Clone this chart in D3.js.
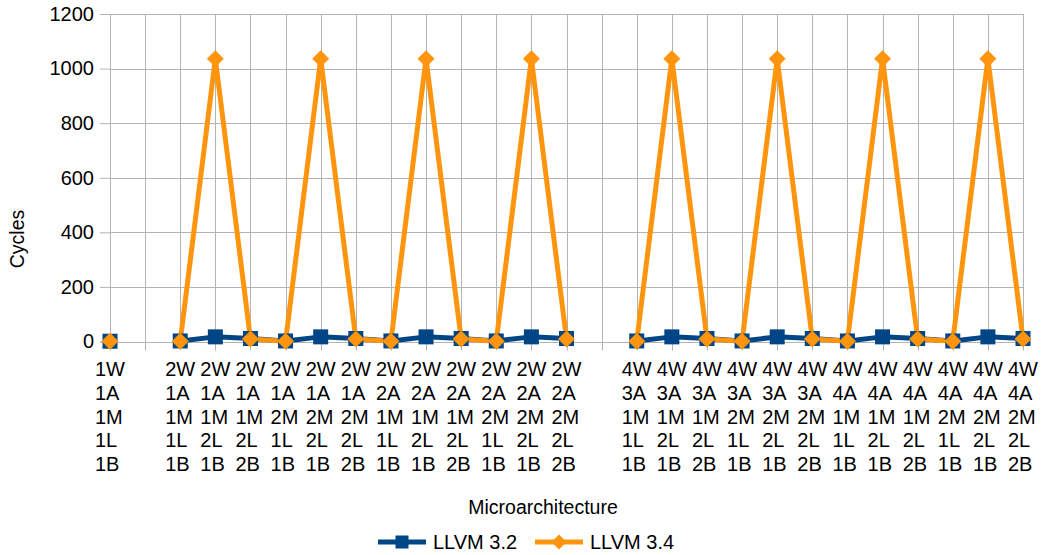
<!DOCTYPE html>
<html>
<head>
<meta charset="utf-8">
<script src="https://cdn.jsdelivr.net/npm/d3@7"></script>
<style>
  html, body { margin: 0; padding: 0; background: #fff; }
  svg { display: block; font-family: "Liberation Sans", Arial, sans-serif; }
</style>
</head>
<body>
<svg id="chart" width="1046" height="555"></svg>
<script>
// Configurations (one per category); empty entries are spacer slots between groups
const categories = [
  ["1W","1A","1M","1L","1B"],
  [],
  ["2W","1A","1M","1L","1B"], ["2W","1A","1M","2L","1B"], ["2W","1A","1M","2L","2B"],
  ["2W","1A","2M","1L","1B"], ["2W","1A","2M","2L","1B"], ["2W","1A","2M","2L","2B"],
  ["2W","2A","1M","1L","1B"], ["2W","2A","1M","2L","1B"], ["2W","2A","1M","2L","2B"],
  ["2W","2A","2M","1L","1B"], ["2W","2A","2M","2L","1B"], ["2W","2A","2M","2L","2B"],
  [],
  ["4W","3A","1M","1L","1B"], ["4W","3A","1M","2L","1B"], ["4W","3A","1M","2L","2B"],
  ["4W","3A","2M","1L","1B"], ["4W","3A","2M","2L","1B"], ["4W","3A","2M","2L","2B"],
  ["4W","4A","1M","1L","1B"], ["4W","4A","1M","2L","1B"], ["4W","4A","1M","2L","2B"],
  ["4W","4A","2M","1L","1B"], ["4W","4A","2M","2L","1B"], ["4W","4A","2M","2L","2B"]
];

const llvm32 = [
  1, null,
  2, 17, 11, 2, 17, 11, 2, 17, 11, 2, 17, 11,
  null,
  2, 17, 11, 2, 17, 11, 2, 17, 11, 2, 17, 11
];

const llvm34 = [
  1, null,
  1, 1036, 9, 1, 1036, 9, 1, 1036, 9, 1, 1036, 9,
  null,
  1, 1036, 9, 1, 1036, 9, 1, 1036, 9, 1, 1036, 9
];

const yTicks = [0, 200, 400, 600, 800, 1000, 1200];

const seriesNames = ["LLVM 3.2", "LLVM 3.4"];
const seriesColors = ["#004586", "#ff950e"];

const svg = d3.select("#chart");
const plot = { left: 110, right: 1023, top: 14, bottom: 341.5 };
const gridColor = "#b3b3b3";
const fontSize = 20;

const x = d3.scalePoint()
  .domain(d3.range(categories.length))
  .range([plot.left, plot.right]);

const y = d3.scaleLinear()
  .domain([0, 1200])
  .range([plot.bottom, plot.top]);

// Horizontal grid lines + y axis labels
const yAxis = d3.axisLeft(y)
  .tickValues(yTicks)
  .tickSize(10)
  .tickPadding(6)
  .tickFormat(d3.format("d"));

const gy = svg.append("g")
  .attr("transform", `translate(${plot.left},0)`)
  .call(yAxis);
gy.select(".domain").attr("stroke", gridColor);
gy.selectAll(".tick line").attr("stroke", gridColor);
gy.selectAll(".tick text")
  .attr("font-size", fontSize)
  .attr("fill", "#000")
  .attr("font-family", "Liberation Sans, Arial, sans-serif");

svg.append("g").selectAll("line")
  .data(yTicks)
  .join("line")
  .attr("x1", plot.left).attr("x2", plot.right)
  .attr("y1", d => Math.round(y(d)) + 0.5).attr("y2", d => Math.round(y(d)) + 0.5)
  .attr("stroke", gridColor).attr("stroke-width", 1);

// Vertical grid lines at every category, extending below the axis as tick marks
svg.append("g").selectAll("line")
  .data(d3.range(categories.length))
  .join("line")
  .attr("x1", d => Math.round(x(d)) + 0.5).attr("x2", d => Math.round(x(d)) + 0.5)
  .attr("y1", plot.top).attr("y2", plot.bottom + 9)
  .attr("stroke", gridColor).attr("stroke-width", 1);

// Multi-line category labels: lines left-aligned, block centred on the category
const labels = svg.append("g")
  .attr("font-size", fontSize)
  .attr("fill", "#000");
categories.forEach((lines, i) => {
  if (!lines.length) return;
  const t = labels.append("text")
    .attr("y", 376)
    .attr("text-anchor", "start");
  const spans = lines.map((s, j) => t.append("tspan")
    .attr("dy", j === 0 ? 0 : 23.8)
    .text(s));
  const w = d3.max(spans, sp => sp.node().getComputedTextLength());
  const x0 = x(i) - w / 2;
  spans.forEach(sp => sp.attr("x", x0));
});

// Series lines
const line = d3.line()
  .defined(d => d != null)
  .x((d, i) => x(i))
  .y(d => y(d));

[llvm32, llvm34].forEach((vals, s) => {
  svg.append("path")
    .datum(vals)
    .attr("fill", "none")
    .attr("stroke", seriesColors[s])
    .attr("stroke-width", 5)
    .attr("stroke-linejoin", "round")
    .attr("d", line);
});

// Markers: squares for LLVM 3.2, diamonds for LLVM 3.4
const sq = 15, dm = 8.5;
svg.append("g").selectAll("rect")
  .data(llvm32.map((v, i) => ({ v, i })).filter(d => d.v != null))
  .join("rect")
  .attr("x", d => x(d.i) - sq / 2)
  .attr("y", d => y(d.v) - sq / 2)
  .attr("width", sq).attr("height", sq)
  .attr("fill", seriesColors[0]);

const diamond = (cx, cy, r) => `M${cx},${cy - r}L${cx + r},${cy}L${cx},${cy + r}L${cx - r},${cy}Z`;
svg.append("g").selectAll("path")
  .data(llvm34.map((v, i) => ({ v, i })).filter(d => d.v != null))
  .join("path")
  .attr("d", d => diamond(x(d.i), y(d.v), dm))
  .attr("fill", seriesColors[1]);

// Axis titles
svg.append("text")
  .attr("x", 543).attr("y", 514)
  .attr("text-anchor", "middle")
  .attr("font-size", 19.5)
  .text("Microarchitecture");

svg.append("text")
  .attr("transform", "translate(24,239) rotate(-90)")
  .attr("text-anchor", "middle")
  .attr("font-size", 19.5)
  .text("Cycles");

// Legend
const legend = svg.append("g").attr("font-size", fontSize);
const legendItems = [
  { x0: 378, color: seriesColors[0], name: seriesNames[0], shape: "square" },
  { x0: 535, color: seriesColors[1], name: seriesNames[1], shape: "diamond" }
];
legendItems.forEach(it => {
  const cy = 542;
  legend.append("line")
    .attr("x1", it.x0).attr("x2", it.x0 + 48)
    .attr("y1", cy).attr("y2", cy)
    .attr("stroke", it.color).attr("stroke-width", 5);
  if (it.shape === "square") {
    legend.append("rect")
      .attr("x", it.x0 + 24 - 6.5).attr("y", cy - 6.5)
      .attr("width", 13).attr("height", 13)
      .attr("fill", it.color);
  } else {
    legend.append("path")
      .attr("d", diamond(it.x0 + 24, cy, 7.5))
      .attr("fill", it.color);
  }
  legend.append("text")
    .attr("x", it.x0 + 55).attr("y", cy + 7)
    .text(it.name);
});
</script>
</body>
</html>
